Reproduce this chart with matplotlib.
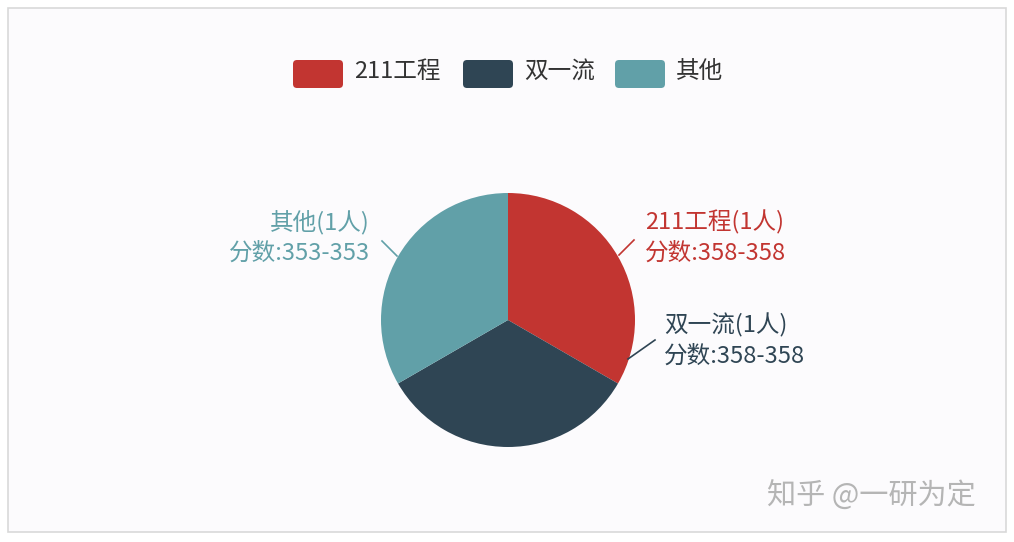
import matplotlib
matplotlib.use("Agg")
import matplotlib.pyplot as plt
from matplotlib.patches import FancyBboxPatch, Rectangle
import numpy as np

plt.rcParams['font.family'] = ['Noto Sans CJK SC', 'DejaVu Sans']

categories = ['211工程', '双一流', '其他']
counts = [1, 1, 1]
score_ranges = ['358-358', '358-358', '353-353']
colors = ['#c23531', '#2f4554', '#61a0a8']

W, H = 1014, 542
fig = plt.figure(figsize=(W / 100, H / 100), dpi=100)
fig.patch.set_facecolor('white')
ax = fig.add_axes([0, 0, 1, 1])
ax.set_xlim(0, W)
ax.set_ylim(0, H)
ax.set_aspect('equal')
ax.axis('off')

def Y(y):
    return H - y

# panel background with border
ax.add_patch(Rectangle((8, Y(532)), 998, 524, facecolor='#fcfbfd',
                       edgecolor='#d9d9d9', linewidth=1.2, zorder=0))

# pie
cx, cy, r = 508, 320, 127
wedges, _ = ax.pie(counts, colors=colors, startangle=90, counterclock=False,
                   center=(cx, Y(cy)), radius=r, frame=True,
                   wedgeprops=dict(linewidth=0, edgecolor='none'))
ax.set_xlim(0, W)
ax.set_ylim(0, H)
ax.axis('off')

# labels with leader lines
fs = 17
label_specs = [
    # (line start, line end, text x, text y1, ha)
    ((619, 255), (634, 240), 645, 222, 'left'),
    ((628, 359), (655, 340), 664, 325, 'left'),
    ((397, 256), (382, 241), 370, 222, 'right'),
]
for i, (p0, p1, tx, ty, ha) in enumerate(label_specs):
    ax.plot([p0[0], p1[0]], [Y(p0[1]), Y(p1[1])], color=colors[i], lw=1.2)
    ax.text(tx, Y(ty), f'{categories[i]}({counts[i]}人)', color=colors[i],
            fontsize=fs, ha=ha, va='center')
    ax.text(tx, Y(ty + 31), f'分数:{score_ranges[i]}', color=colors[i],
            fontsize=fs, ha=ha, va='center')

# legend
leg_boxes = [293, 463, 615]
for i, bx in enumerate(leg_boxes):
    ax.add_patch(FancyBboxPatch((bx + 4, Y(88) + 4), 50 - 8, 28 - 8,
                                boxstyle='round,pad=4', facecolor=colors[i],
                                edgecolor='none'))
    ax.text(bx + 61, Y(72), categories[i], fontsize=17, color='#333333',
            ha='left', va='center')

# watermark
ax.text(767, Y(497), '知乎 @一研为定', fontsize=21, color='#b5b5b5',
        ha='left', va='center')

fig.savefig('out.png', dpi=100, facecolor='white')
